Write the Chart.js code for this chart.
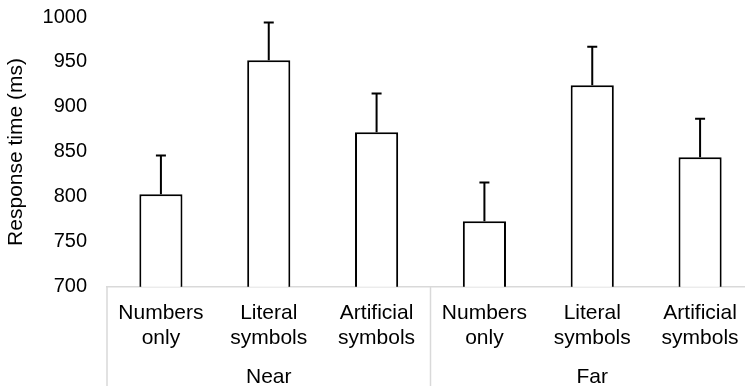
<!DOCTYPE html>
<html>
<head>
<meta charset="utf-8">
<script src="https://cdn.jsdelivr.net/npm/chart.js@4.4.1/dist/chart.umd.min.js"></script>
<style>
    html, body { margin: 0; padding: 0; background: #fff; overflow: hidden; }
    #wrap { width: 754px; height: 389px; }
</style>
</head>
<body>
<div id="wrap"><canvas id="rtChart"></canvas></div>
<script>
// Dados
const conditions = [['Numbers', 'only'], ['Literal', 'symbols'], ['Artificial', 'symbols'],
                    ['Numbers', 'only'], ['Literal', 'symbols'], ['Artificial', 'symbols']];
const groups = ['Near', 'Far'];
const responseTimes = [803, 952, 872, 773, 924, 844];
const errorValues = [43, 42, 43, 43, 43, 43];
const yTicks = [700, 750, 800, 850, 900, 950, 1000];

const FAMILY = '"Liberation Sans", Arial, sans-serif';
const TICK_FONT = { family: FAMILY, size: 20, lineHeight: 1.25 };
const LABEL_FONT = { family: FAMILY, size: 21, lineHeight: 1.19 };

// Barras de erro (só para cima)
const errorBarsPlugin = {
    id: 'errorBars',
    afterDatasetsDraw(chart) {
        const ctx = chart.ctx;
        const meta = chart.getDatasetMeta(0);
        const y = chart.scales.y;
        ctx.save();
        ctx.strokeStyle = '#000';
        ctx.lineWidth = 2;
        meta.data.forEach((bar, i) => {
            const top = y.getPixelForValue(responseTimes[i] + errorValues[i]);
            ctx.beginPath();
            ctx.moveTo(bar.x, bar.y);
            ctx.lineTo(bar.x, top);
            ctx.moveTo(bar.x - 5, top);
            ctx.lineTo(bar.x + 5, top);
            ctx.stroke();
        });
        ctx.restore();
    }
};

// Linhas separadoras dos grupos
const groupLinesPlugin = {
    id: 'groupLines',
    afterDraw(chart) {
        const ctx = chart.ctx;
        const x = chart.scales.x;
        const bottom = chart.chartArea.bottom;
        const mid = (x.getPixelForTick(2) + x.getPixelForTick(3)) / 2;
        ctx.save();
        ctx.strokeStyle = '#d9d9d9';
        ctx.lineWidth = 1.5;
        [x.left, mid, x.right].forEach(px => {
            ctx.beginPath();
            ctx.moveTo(px, bottom);
            ctx.lineTo(px, chart.height);
            ctx.stroke();
        });
        ctx.restore();
    }
};

new Chart(document.getElementById('rtChart'), {
    type: 'bar',
    data: {
        labels: conditions,
        datasets: [{
            data: responseTimes,
            backgroundColor: '#ffffff',
            borderColor: '#000000',
            borderWidth: 2,
            borderSkipped: 'bottom',
            barPercentage: 0.4,
            categoryPercentage: 1.0
        }]
    },
    options: {
        responsive: true,
        maintainAspectRatio: false,
        animation: false,
        layout: { padding: 0 },
        plugins: {
            legend: { display: false },
            tooltip: { enabled: false }
        },
        scales: {
            y: {
                min: 700,
                max: 1000,
                afterBuildTicks: axis => { axis.ticks = yTicks.map(v => ({ value: v })); },
                afterFit: axis => {
                    axis.width = 107;
                    axis.paddingTop = 17;
                    axis.paddingBottom = 0;
                },
                grid: { display: false, drawTicks: false },
                border: { display: false },
                ticks: { color: '#000', font: TICK_FONT, padding: 20, callback: v => String(v) },
                title: {
                    display: true,
                    text: 'Response time (ms)',
                    color: '#000',
                    font: { family: FAMILY, size: 21 },
                    padding: { top: 4, bottom: 0 }
                }
            },
            x: {
                weight: 0,
                grid: { display: false, drawTicks: false },
                border: { display: true, color: '#d9d9d9', width: 1.5 },
                ticks: { color: '#000', font: LABEL_FONT, padding: 14, maxRotation: 0, autoSkip: false }
            },
            x2: {
                type: 'category',
                position: 'bottom',
                weight: 1,
                labels: groups,
                offset: true,
                grid: { display: false, drawTicks: false },
                border: { display: false },
                ticks: { color: '#000', font: { family: FAMILY, size: 21, lineHeight: 1.15 }, padding: 0, maxRotation: 0 }
            }
        }
    },
    plugins: [errorBarsPlugin, groupLinesPlugin]
});
</script>
</body>
</html>
